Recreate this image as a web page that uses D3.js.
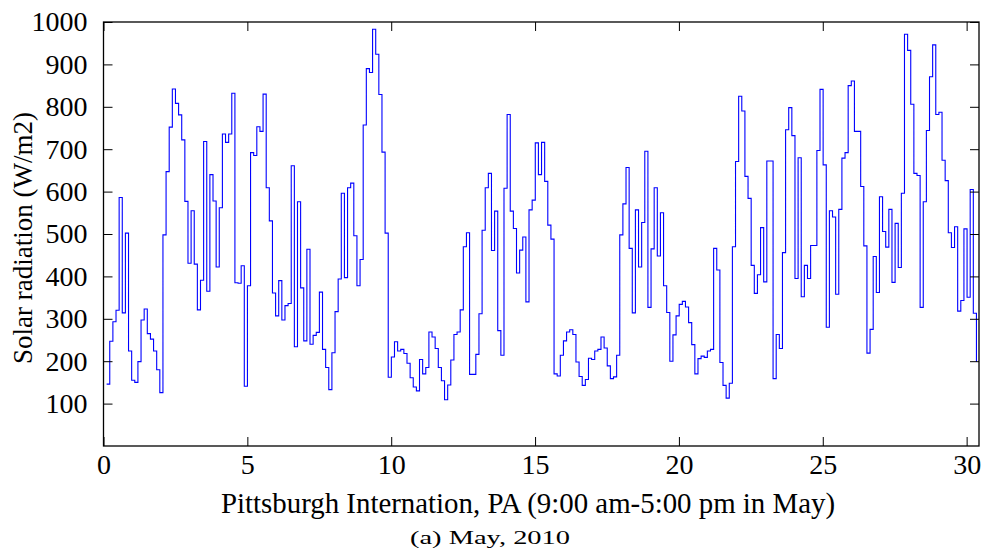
<!DOCTYPE html>
<html>
<head>
<meta charset="utf-8">
<script src="https://cdn.jsdelivr.net/npm/d3@7/dist/d3.min.js"></script>
<style>
  body { margin: 0; background: #fff; }
  text { font-family: 'Liberation Serif', 'Times New Roman', serif; fill: #000; }
</style>
</head>
<body>
<svg id="chart" width="983" height="550"></svg>
<script>
// hourly readings, 9:00 am - 5:00 pm, every day of May (9 per day)
let radiation = [
  146, 247, 293, 320, 586, 314, 502, 224, 155, 150, 199, 297, 323, 265, 252, 224, 180, 126, 498, 647,
  752, 842, 808, 781, 722, 577, 431, 555, 429, 321, 391, 718, 365, 640, 578, 422, 562, 736, 716, 736,
  832, 385, 384, 425, 141, 378, 692, 685, 753, 742, 830, 609, 531, 361, 307, 390, 297, 331, 336, 661,
  234, 576, 373, 248, 464, 240, 261, 268, 363, 228, 185, 133, 220, 317, 394, 596, 397, 609, 620, 496,
  378, 440, 757, 890, 881, 983, 924, 829, 693, 502, 162, 210, 246, 224, 228, 218, 195, 161, 139, 130,
  204, 170, 185, 269, 257, 230, 185, 154, 109, 144, 203, 263, 269, 321, 470, 503, 169, 169, 216, 312,
  509, 609, 643, 461, 554, 272, 214, 608, 782, 554, 513, 408, 462, 493, 340, 557, 580, 715, 640, 716,
  624, 521, 488, 170, 165, 214, 248, 269, 274, 263, 198, 164, 143, 157, 207, 204, 224, 228, 257, 231,
  189, 159, 163, 214, 498, 571, 657, 466, 314, 557, 422, 527, 695, 327, 465, 609, 448, 550, 378, 315,
  200, 262, 307, 334, 341, 328, 291, 239, 170, 206, 212, 209, 224, 228, 466, 415, 197, 143, 113, 148,
  470, 671, 825, 790, 636, 584, 426, 360, 404, 515, 387, 672, 672, 159, 263, 230, 456, 746, 798, 732,
  395, 680, 352, 426, 395, 473, 473, 697, 841, 663, 280, 555, 540, 358, 558, 679, 692, 850, 861, 742,
  742, 612, 472, 219, 275, 447, 362, 588, 506, 469, 558, 386, 525, 421, 596, 971, 933, 806, 643, 638,
  327, 576, 744, 871, 946, 782, 787, 674, 626, 503, 468, 517, 318, 343, 512, 351, 605, 313, 198
]
let xTicks = [0, 5, 10, 15, 20, 25, 30]
let yTicks = [100, 200, 300, 400, 500, 600, 700, 800, 900, 1000]
let xLabel = 'Pittsburgh Internation, PA (9:00 am-5:00 pm in May)'
let yLabel = 'Solar radiation (W/m2)'
let caption = '(a) May, 2010'

let xStep = 0.10875 // spacing of the readings along the day axis
let data = radiation.map((v, i) => ({ day: (i + 1) * xStep, value: v }))

let margin = { top: 22, right: 4, bottom: 104, left: 103.5 }
let width = 983 - margin.left - margin.right
let height = 550 - margin.top - margin.bottom

let svg = d3.select('#chart')
let g = svg.append('g').attr('transform', `translate(${margin.left},${margin.top})`)

let x = d3.scaleLinear().domain([0, 30.43]).range([0, width])
let y = d3.scaleLinear().domain([0, 1000]).range([height, 0])

// stairs line
g.append('path')
  .datum(data)
  .attr('fill', 'none')
  .attr('stroke', '#0000ff')
  .attr('stroke-width', 1.1)
  .attr('d', d3.line().curve(d3.curveStepAfter).x(d => x(d.day)).y(d => y(d.value)))

let tickLen = 9

// bottom axis with labels, ticks pointing in
let xAxis = g.append('g')
  .attr('transform', `translate(0,${height})`)
  .call(d3.axisBottom(x).tickValues(xTicks).tickSize(-tickLen).tickPadding(8).tickFormat(d3.format('d')))
xAxis.selectAll('text').attr('font-size', 28).attr('dy', '0.7em')

g.append('g')
  .call(d3.axisTop(x).tickValues(xTicks).tickSize(-tickLen).tickFormat(''))

let yAxis = g.append('g')
  .call(d3.axisLeft(y).tickValues(yTicks).tickSize(-tickLen).tickPadding(16).tickFormat(d3.format('d')))
yAxis.selectAll('text').attr('font-size', 28)

g.append('g')
  .attr('transform', `translate(${width},0)`)
  .call(d3.axisRight(y).tickValues(yTicks).tickSize(-tickLen).tickFormat(''))

g.selectAll('.domain').remove()
g.selectAll('.tick line').attr('stroke', '#000').attr('stroke-width', 1)
g.selectAll('.tick text').style('font-family', "'Liberation Serif', serif").attr('fill', '#000')

// frame
g.append('rect')
  .attr('width', width)
  .attr('height', height)
  .attr('fill', 'none')
  .attr('stroke', '#000')
  .attr('stroke-width', 1.3)

// labels
svg.append('text')
  .attr('x', 528)
  .attr('y', 513)
  .attr('text-anchor', 'middle')
  .attr('font-size', 29)
  .attr('textLength', 614)
  .attr('lengthAdjust', 'spacingAndGlyphs')
  .text(xLabel)

svg.append('text')
  .attr('transform', `translate(32,238) rotate(-90)`)
  .attr('text-anchor', 'middle')
  .attr('font-size', 27)
  .text(yLabel)

svg.append('text')
  .attr('x', 490)
  .attr('y', 544)
  .attr('text-anchor', 'middle')
  .attr('font-size', 19)
  .attr('textLength', 160)
  .attr('lengthAdjust', 'spacingAndGlyphs')
  .text(caption)
</script>
</body>
</html>
